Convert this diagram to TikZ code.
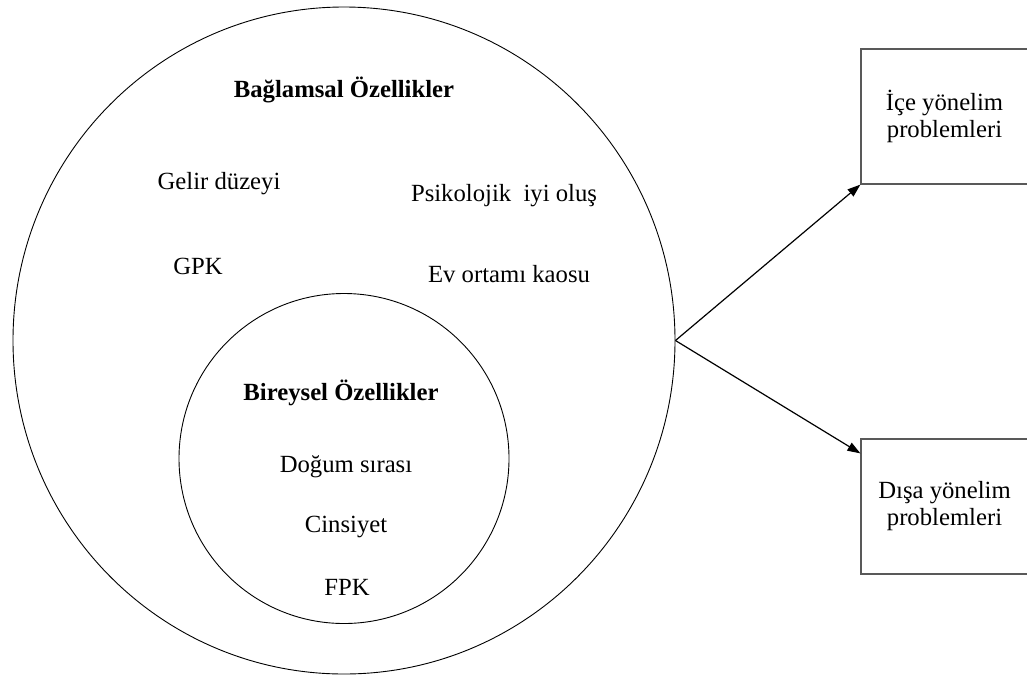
\documentclass[tikz,border=0pt]{standalone}
\usepackage{fontspec}
\setmainfont{Liberation Serif}
\usetikzlibrary{shapes.geometric,arrows.meta}
\begin{document}
\begin{tikzpicture}[x=1pt,y=-1pt,
  txt/.style={inner sep=0pt,font=\fontsize{24.7}{27}\selectfont},
  ring/.style={draw=black,line width=0.9pt,inner sep=0pt},
  outbox/.style={draw=black!65,line width=1.2pt,rectangle,minimum width=167pt,minimum height=135pt,inner sep=0pt,align=center,font=\fontsize{24.7}{27}\selectfont},
  arr/.style={draw=black,line width=1.2pt,-{Triangle[length=13pt,width=9pt]}}]
\useasboundingbox (0,0) rectangle (1027,675);
\fill[white] (0,0) rectangle (1027,675);
\node[ring,ellipse,minimum width=662pt,minimum height=667pt] (outer) at (344,340.5) {};
\node[ring,circle,minimum size=330pt] (inner) at (344,458.5) {};
\node[txt,font=\fontsize{24.7}{27}\selectfont\bfseries] (bag) at (344,90) {Bağlamsal Özellikler};
\node[txt] (gelir) at (219,184) {Gelir düzeyi};
\node[txt] (psi) at (504,196) {Psikolojik\ \ iyi oluş};
\node[txt] (gpk) at (198,266) {GPK};
\node[txt] (ev) at (509,274) {Ev ortamı kaosu};
\node[txt,font=\fontsize{24.7}{27}\selectfont\bfseries] (bir) at (341,393) {Bireysel Özellikler};
\node[txt] (dogum) at (346,467) {Doğum sırası};
\node[txt] (cins) at (346,527) {Cinsiyet};
\node[txt] (fpk) at (347,587) {FPK};
\node[outbox] (box1) at (944.5,116.5) {İçe yönelim\\problemleri};
\node[outbox] (box2) at (944.5,506.5) {Dışa yönelim\\problemleri};
\draw[arr] (outer.east) -- (box1.south west);
\draw[arr] (outer.east) -- ([yshift=-15pt]box2.north west);
\end{tikzpicture}
\end{document}
